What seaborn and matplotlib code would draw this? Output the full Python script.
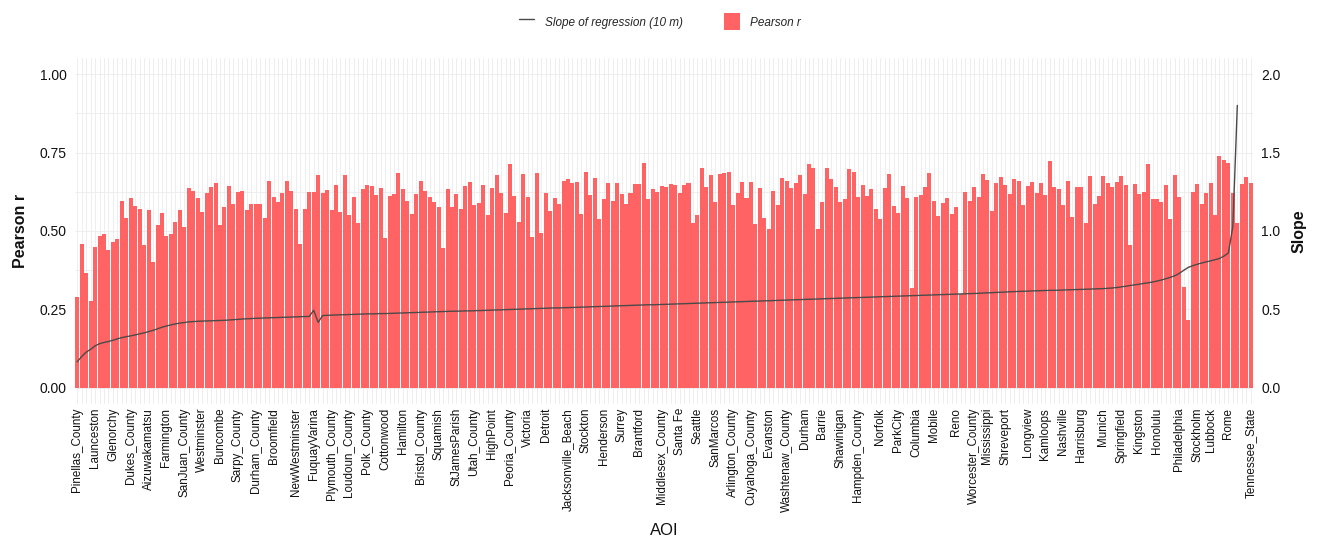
import numpy as np
import pandas as pd
import seaborn as sns
import matplotlib
matplotlib.use("Agg")
import matplotlib.pyplot as plt
from matplotlib.lines import Line2D
from matplotlib.patches import Patch

# Pearson r per AOI, ordered by slope of regression
pearson_r = [
    0.290, 0.460, 0.367, 0.278, 0.448, 0.484, 0.489, 0.440, 0.466, 0.473,
    0.597, 0.540, 0.604, 0.580, 0.571, 0.455, 0.567, 0.400, 0.520, 0.558,
    0.485, 0.490, 0.530, 0.567, 0.514, 0.636, 0.628, 0.604, 0.560, 0.622,
    0.641, 0.654, 0.519, 0.575, 0.644, 0.586, 0.625, 0.628, 0.567, 0.586,
    0.586, 0.586, 0.540, 0.660, 0.609, 0.593, 0.622, 0.660, 0.628, 0.569,
    0.460, 0.569, 0.625, 0.625, 0.678, 0.622, 0.630, 0.567, 0.646, 0.560,
    0.678, 0.550, 0.609, 0.524, 0.633, 0.646, 0.643, 0.615, 0.636, 0.477,
    0.611, 0.618, 0.686, 0.633, 0.597, 0.554, 0.618, 0.660, 0.628, 0.607,
    0.593, 0.575, 0.445, 0.633, 0.575, 0.618, 0.569, 0.643, 0.657, 0.583,
    0.590, 0.646, 0.550, 0.636, 0.678, 0.622, 0.556, 0.713, 0.611, 0.530,
    0.681, 0.607, 0.480, 0.686, 0.495, 0.622, 0.565, 0.604, 0.586, 0.660,
    0.665, 0.654, 0.657, 0.554, 0.689, 0.615, 0.668, 0.537, 0.601, 0.654,
    0.597, 0.654, 0.618, 0.586, 0.622, 0.650, 0.650, 0.716, 0.601, 0.633,
    0.625, 0.643, 0.639, 0.650, 0.646, 0.622, 0.646, 0.654, 0.524, 0.550,
    0.700, 0.639, 0.678, 0.593, 0.681, 0.686, 0.689, 0.583, 0.622, 0.657,
    0.604, 0.657, 0.522, 0.636, 0.540, 0.505, 0.628, 0.583, 0.668, 0.660,
    0.636, 0.654, 0.678, 0.618, 0.713, 0.700, 0.505, 0.593, 0.700, 0.665,
    0.639, 0.593, 0.601, 0.696, 0.689, 0.607, 0.646, 0.611, 0.633, 0.569,
    0.537, 0.636, 0.681, 0.580, 0.558, 0.643, 0.604, 0.317, 0.607, 0.615,
    0.641, 0.684, 0.597, 0.548, 0.588, 0.604, 0.554, 0.577, 0.300, 0.625,
    0.597, 0.639, 0.609, 0.681, 0.662, 0.565, 0.654, 0.673, 0.646, 0.618,
    0.665, 0.660, 0.583, 0.643, 0.657, 0.622, 0.654, 0.615, 0.724, 0.639,
    0.633, 0.583, 0.660, 0.546, 0.639, 0.641, 0.524, 0.675, 0.586, 0.611,
    0.675, 0.654, 0.641, 0.657, 0.675, 0.646, 0.455, 0.650, 0.618, 0.625,
    0.713, 0.601, 0.601, 0.593, 0.646, 0.537, 0.678, 0.607, 0.323, 0.217,
    0.625, 0.650, 0.586, 0.620, 0.654, 0.551, 0.739, 0.726, 0.716, 0.620,
    0.524, 0.650, 0.673, 0.652,
]

# Slope of regression (10 m); the last AOIs have no slope
slope = [
    0.167, 0.200, 0.228, 0.246, 0.268, 0.282, 0.290, 0.296, 0.304, 0.313,
    0.321, 0.327, 0.332, 0.338, 0.345, 0.351, 0.359, 0.367, 0.377, 0.387,
    0.395, 0.402, 0.408, 0.413, 0.417, 0.421, 0.423, 0.425, 0.426, 0.427,
    0.428, 0.429, 0.430, 0.431, 0.433, 0.435, 0.437, 0.439, 0.441, 0.442,
    0.444, 0.445, 0.446, 0.447, 0.448, 0.449, 0.450, 0.451, 0.452, 0.453,
    0.454, 0.455, 0.456, 0.495, 0.418, 0.461, 0.463, 0.464, 0.465, 0.466,
    0.467, 0.468, 0.469, 0.470, 0.471, 0.472, 0.472, 0.473, 0.474, 0.474,
    0.475, 0.476, 0.477, 0.478, 0.479, 0.480, 0.481, 0.482, 0.483, 0.484,
    0.485, 0.486, 0.487, 0.488, 0.489, 0.489, 0.490, 0.491, 0.491, 0.492,
    0.493, 0.494, 0.495, 0.496, 0.497, 0.498, 0.499, 0.500, 0.501, 0.502,
    0.503, 0.504, 0.505, 0.506, 0.507, 0.508, 0.509, 0.510, 0.510, 0.511,
    0.512, 0.513, 0.514, 0.515, 0.516, 0.517, 0.518, 0.519, 0.520, 0.521,
    0.522, 0.523, 0.524, 0.525, 0.526, 0.527, 0.528, 0.529, 0.530, 0.530,
    0.531, 0.532, 0.533, 0.534, 0.535, 0.536, 0.537, 0.538, 0.539, 0.540,
    0.541, 0.542, 0.543, 0.544, 0.545, 0.546, 0.547, 0.548, 0.549, 0.550,
    0.551, 0.552, 0.553, 0.554, 0.555, 0.556, 0.557, 0.558, 0.559, 0.560,
    0.561, 0.562, 0.563, 0.564, 0.565, 0.566, 0.567, 0.568, 0.569, 0.570,
    0.571, 0.572, 0.573, 0.574, 0.575, 0.576, 0.577, 0.578, 0.579, 0.580,
    0.581, 0.582, 0.583, 0.584, 0.585, 0.586, 0.587, 0.588, 0.589, 0.590,
    0.591, 0.592, 0.593, 0.594, 0.595, 0.596, 0.597, 0.598, 0.599, 0.600,
    0.601, 0.602, 0.603, 0.605, 0.606, 0.607, 0.609, 0.610, 0.611, 0.613,
    0.614, 0.615, 0.616, 0.617, 0.618, 0.619, 0.620, 0.621, 0.622, 0.622,
    0.623, 0.624, 0.625, 0.626, 0.627, 0.628, 0.629, 0.630, 0.631, 0.632,
    0.633, 0.635, 0.637, 0.640, 0.644, 0.648, 0.653, 0.657, 0.661, 0.666,
    0.670, 0.675, 0.681, 0.688, 0.696, 0.705, 0.715, 0.730, 0.750, 0.768,
    0.779, 0.788, 0.796, 0.803, 0.810, 0.817, 0.825, 0.840, 0.860, 1.030,
    1.800, np.nan, np.nan, np.nan,
]

# AOI names shown on the x axis and the bar they belong to
aoi_labels = [
    "Pinellas_County", "Launceston", "Glenorchy", "Dukes_County", "Aizuwakamatsu",
    "Farmington", "SanJuan_County", "Westminster", "Buncombe", "Sarpy_County",
    "Durham_County", "Broomfield", "NewWestminster", "FuquayVarina", "Plymouth_County",
    "Loudoun_County", "Polk_County", "Cottonwood", "Hamilton", "Bristol_County",
    "Squamish", "StJamesParish", "Utah_County", "HighPoint", "Peoria_County",
    "Victoria", "Detroit", "Jacksonville_Beach", "Stockton", "Henderson",
    "Surrey", "Brantford", "Middlesex_County", "Santa Fe", "Seattle",
    "SanMarcos", "Arlington_County", "Cuyahoga_County", "Evanston", "Washtenaw_County",
    "Durham", "Barrie", "Shawinigan", "Hampden_County", "Norfolk",
    "ParkCity", "Columbia", "Mobile", "Reno", "Worcester_County",
    "Mississippi", "Shreveport", "Longview", "Kamloops", "Nashville",
    "Harrisburg", "Munich", "Springfield", "Kingston", "Honolulu",
    "Philadelphia", "Stockholm", "Lubbock", "Rome", "Tennessee_State",
]
aoi_label_bar = [
    0, 4, 8, 12, 16, 20, 24, 28, 32, 36,
    40, 44, 49, 53, 57, 61, 65, 69, 73, 77,
    81, 85, 89, 93, 97, 101, 105, 110, 114, 118,
    122, 126, 131, 135, 139, 143, 147, 151, 155, 159,
    163, 167, 171, 175, 180, 184, 188, 192, 197, 201,
    204, 208, 213, 217, 221, 225, 230, 234, 238, 242,
    247, 251, 254, 258, 263,
]

n = len(pearson_r)
df = pd.DataFrame({"bar": np.arange(n), "pearson_r": pearson_r, "slope": slope})

BAR_COLOR = "#ff6363"
LINE_COLOR = "#4a4a4a"
GRID_COLOR = "#ebebeb"
TEXT_COLOR = "#111111"

sns.set_theme(style="white")
plt.rcParams["font.family"] = ["Liberation Sans", "DejaVu Sans"]

fig = plt.figure(figsize=(13.2, 5.45), dpi=100)
ax = fig.add_axes([0.0568, 0.2593, 0.8924, 0.6337])

sns.barplot(data=df, x="bar", y="pearson_r", color=BAR_COLOR, saturation=1,
            width=0.9, ax=ax, zorder=2, linewidth=0)
for p in ax.patches:
    p.set_antialiased(False)

ax.set_xlim(-0.5, n - 0.5)
ax.set_ylim(-0.05, 1.05)
ax.set_yticks([0, 0.25, 0.5, 0.75, 1.0])
ax.set_yticklabels(["0.00", "0.25", "0.50", "0.75", "1.00"])
ax.set_yticks([0.125, 0.375, 0.625, 0.875], minor=True)
ax.set_xticks(np.arange(n), minor=True)
ax.set_xticks(aoi_label_bar)
ax.set_xticklabels(aoi_labels, rotation=90, fontsize=8.4, color=TEXT_COLOR)

ax.set_axisbelow(True)
ax.grid(True, which="both", axis="both", color=GRID_COLOR, linewidth=0.6, zorder=0)
ax.tick_params(axis="both", which="both", length=0)
ax.tick_params(axis="y", labelsize=10, colors=TEXT_COLOR, pad=6)
ax.tick_params(axis="x", pad=3)
for s in ax.spines.values():
    s.set_visible(False)

ax.set_xlabel("AOI", fontsize=12, labelpad=8, color=TEXT_COLOR)
ax.set_ylabel("Pearson r", fontsize=11.5, fontweight="bold", labelpad=8, color=TEXT_COLOR)

# Secondary axis for the regression slope
ax2 = ax.twinx()
sns.lineplot(data=df, x="bar", y="slope", color=LINE_COLOR, linewidth=1.0,
             ax=ax2, zorder=3)
ax2.set_ylim(-0.1, 2.1)
ax2.set_yticks([0, 0.5, 1.0, 1.5, 2.0])
ax2.set_yticklabels(["0.0", "0.5", "1.0", "1.5", "2.0"])
ax2.tick_params(axis="y", length=0, labelsize=10, colors=TEXT_COLOR, pad=6)
ax2.grid(False)
for s in ax2.spines.values():
    s.set_visible(False)
ax2.set_ylabel("Slope", fontsize=11.5, fontweight="bold", rotation=90, labelpad=8,
               color=TEXT_COLOR)
ax2.set_xlim(-0.5, n - 0.5)

handles = [
    Line2D([0], [0], color=LINE_COLOR, linewidth=1.0),
    Patch(facecolor=BAR_COLOR, edgecolor="none"),
]
fig.legend(handles, ["Slope of regression (10 m)", "Pearson r"],
           loc="upper center", bbox_to_anchor=(0.5, 0.995), ncol=2,
           frameon=False, prop={"style": "italic", "size": 8.5},
           handlelength=1.3, handleheight=1.8, columnspacing=3.5, handletextpad=0.9)

fig.savefig("out.png", dpi=100)
